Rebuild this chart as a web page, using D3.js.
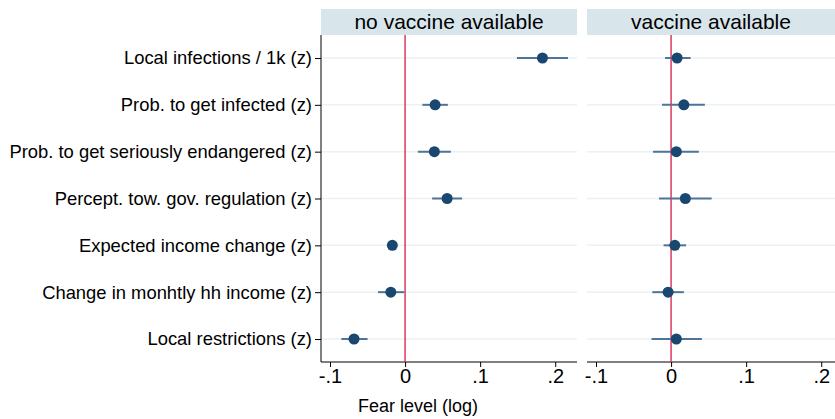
<!DOCTYPE html>
<meta charset="utf-8">
<style>
body { margin: 0; background: #fff; }
text { font-family: "Liberation Sans", Arial, sans-serif; fill: #000; }
</style>
<body>
<script src="https://d3js.org/d3.v7.min.js"></script>
<script>

// coefficient estimates
var labels = ["Local infections / 1k (z)", "Prob. to get infected (z)",
  "Prob. to get seriously endangered (z)", "Percept. tow. gov. regulation (z)",
  "Expected income change (z)", "Change in monhtly hh income (z)", "Local restrictions (z)"];

var panels = ["no vaccine available", "vaccine available"];

var coefNoVac = [0.183, 0.040, 0.039, 0.056, -0.017, -0.019, -0.068];
var loNoVac   = [0.149, 0.023, 0.017, 0.036, -0.023, -0.036, -0.085];
var hiNoVac   = [0.217, 0.057, 0.061, 0.076, -0.011, -0.001, -0.050];

var coefVac = [0.008, 0.017, 0.007, 0.019, 0.005, -0.004, 0.007];
var loVac   = [-0.008, -0.012, -0.024, -0.016, -0.010, -0.025, -0.026];
var hiVac   = [0.026, 0.045, 0.037, 0.054, 0.020, 0.017, 0.041];

var xTicks = [-0.1, 0, 0.1, 0.2];

var width = 835, height = 419;
var plotTop = 35, plotBottom = 362, headerTop = 9;
// panel left edges; right panel runs past the picture edge
var panelX = [[321, 577], [587, 843]];
var xDomain = [-0.112, 0.229];

var svg = d3.select("body").append("svg")
    .attr("width", width)
    .attr("height", height);

var y = d3.scalePoint()
    .domain(labels)
    .range([58, 339]);

var series = [
  {coef: coefNoVac, lo: loNoVac, hi: hiNoVac},
  {coef: coefVac, lo: loVac, hi: hiVac}
];

var fmt = function(d) { return d === 0 ? "0" : d3.format(".1f")(d).replace("0.", ".").replace("\u2212", "-"); };

panels.forEach(function(p, k) {
  var x = d3.scaleLinear().domain(xDomain).range(panelX[k]);
  var x0 = panelX[k][0], x1 = Math.min(panelX[k][1], width);
  var g = svg.append("g");

  // header strip
  g.append("rect")
      .attr("x", x0).attr("y", headerTop)
      .attr("width", x1 - x0).attr("height", plotTop - headerTop)
      .attr("fill", "#d8e5eb");
  g.append("text")
      .attr("x", (x0 + x1) / 2).attr("y", 29)
      .attr("text-anchor", "middle")
      .style("font-size", "21px")
      .text(p);

  // grid lines
  g.selectAll(".grid").data(labels).enter().append("line")
      .attr("x1", x0).attr("x2", x1)
      .attr("y1", function(d) { return y(d); })
      .attr("y2", function(d) { return y(d); })
      .attr("stroke", "#eaf2f3").attr("stroke-width", 1.5);

  // x axis
  var ax = g.append("g")
      .attr("transform", "translate(0," + plotBottom + ")")
      .call(d3.axisBottom(x).tickValues(xTicks).tickSize(5).tickPadding(2).tickFormat(fmt));
  ax.select(".domain").remove();
  ax.append("line")
      .attr("x1", x0).attr("x2", x1)
      .attr("stroke", "#000").attr("stroke-width", 1);
  ax.selectAll("text").style("font-size", "20px").attr("fill", "#000")
      .style("font-family", "'Liberation Sans', Arial, sans-serif");

  // zero line
  g.append("line")
      .attr("x1", x(0)).attr("x2", x(0))
      .attr("y1", plotTop).attr("y2", plotBottom)
      .attr("stroke", "#dc3a5f").attr("stroke-width", 1.5);

  var s = series[k];
  // confidence intervals
  g.selectAll(".ci").data(labels).enter().append("line")
      .attr("x1", function(d, i) { return x(s.lo[i]); })
      .attr("x2", function(d, i) { return x(s.hi[i]); })
      .attr("y1", function(d) { return y(d); })
      .attr("y2", function(d) { return y(d); })
      .attr("stroke", "#4f7497").attr("stroke-width", 2);

  // point estimates
  g.selectAll(".dot").data(labels).enter().append("circle")
      .attr("cx", function(d, i) { return x(s.coef[i]); })
      .attr("cy", function(d) { return y(d); })
      .attr("r", 5.5)
      .attr("fill", "#1a476f");
});

// y axis, left panel only
var ay = svg.append("g")
    .attr("transform", "translate(" + panelX[0][0] + ",0)")
    .call(d3.axisLeft(y).tickSize(6).tickPadding(3));
ay.select(".domain").remove();
ay.append("line")
    .attr("y1", plotTop).attr("y2", plotBottom)
    .attr("stroke", "#000").attr("stroke-width", 1);
ay.selectAll("text").style("font-size", "18.4px").attr("fill", "#000")
    .style("font-family", "'Liberation Sans', Arial, sans-serif");

svg.append("text")
    .attr("x", 418).attr("y", 412)
    .attr("text-anchor", "middle")
    .style("font-size", "18px")
    .text("Fear level (log)");

</script>
</body>
